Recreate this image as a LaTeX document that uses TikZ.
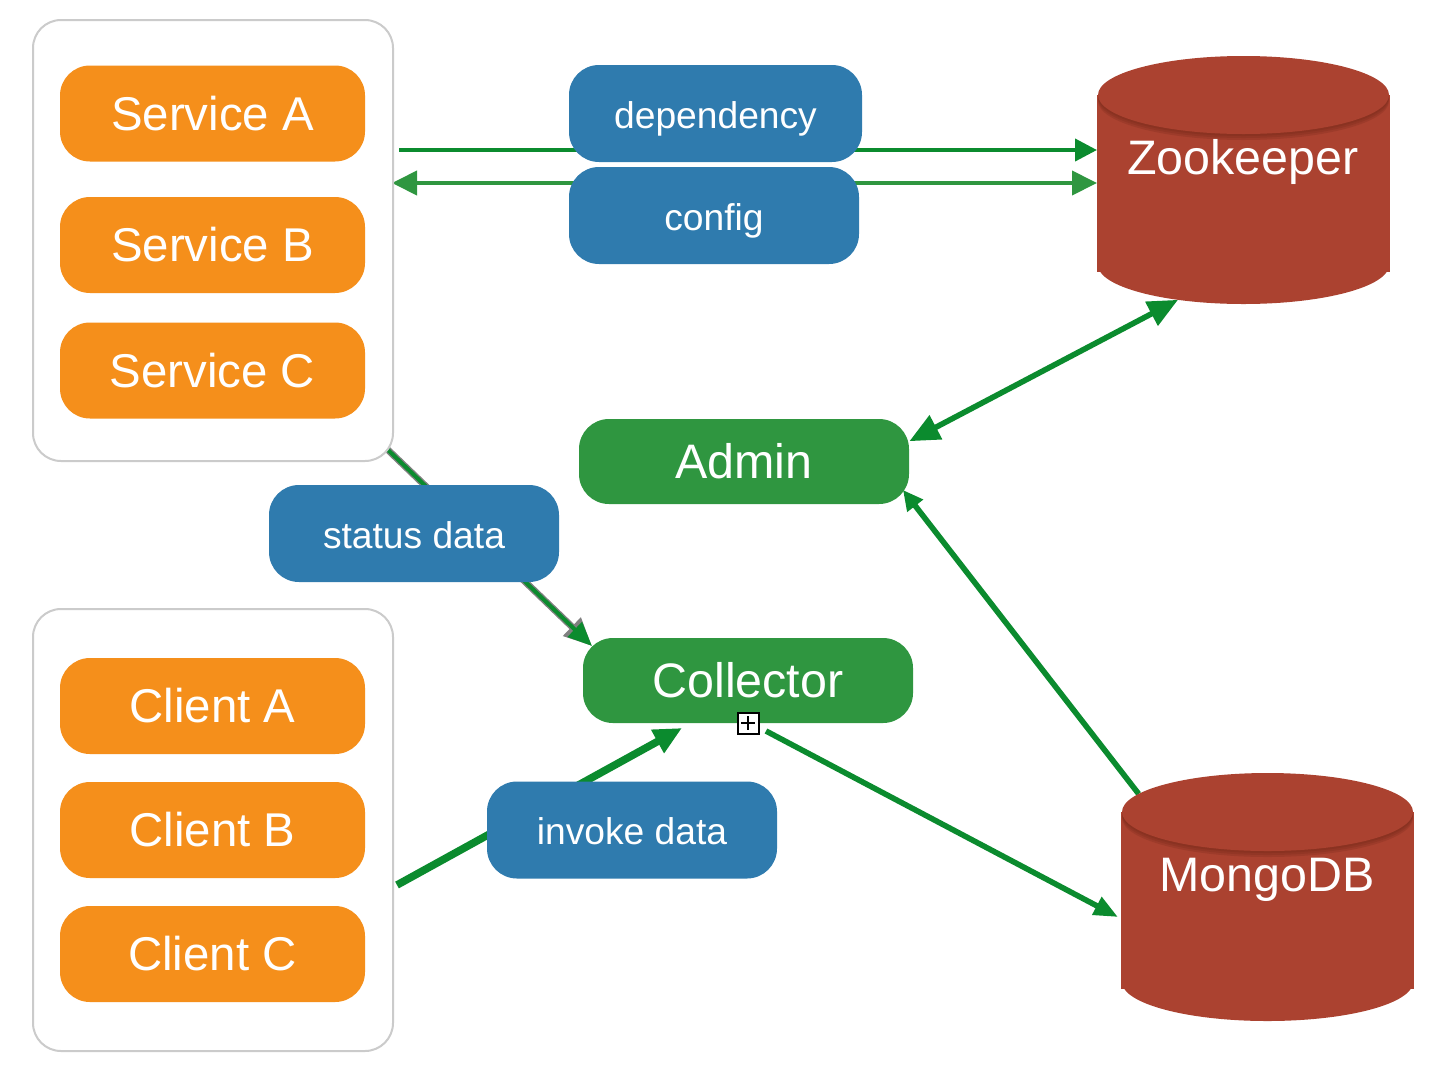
\documentclass[tikz,border=0pt]{standalone}
\usepackage{fontspec}
\setmainfont{Liberation Sans}
\usetikzlibrary{shapes.geometric,arrows.meta,backgrounds}
\definecolor{svcorange}{HTML}{F58F1B}
\definecolor{tagblue}{HTML}{2F7BAE}
\definecolor{appgreen}{HTML}{2F9640}
\definecolor{dbred}{HTML}{AB4230}
\definecolor{dbshade}{HTML}{6E2517}
\definecolor{linegreen}{HTML}{0B8B2E}
\definecolor{groupgrey}{HTML}{CBCBCB}
\tikzset{
    groupbox/.style={draw=groupgrey,line width=1pt,fill=white,rounded corners=14pt,minimum width=180pt,inner sep=0pt},
    svcbox/.style={fill=svcorange,text=white,rounded corners=15pt,minimum width=152.5pt,minimum height=48pt,inner sep=0pt,font=\fontsize{23.7}{28}\selectfont},
    tagbox/.style={fill=tagblue,text=white,rounded corners=15pt,minimum width=145pt,minimum height=48.5pt,inner sep=0pt,text height=14.5pt,text depth=0pt,font=\fontsize{18.6}{22}\selectfont},
    appbox/.style={fill=appgreen,text=white,rounded corners=15pt,minimum width=165pt,minimum height=42.5pt,inner sep=0pt,font=\fontsize{24.2}{29}\selectfont},
    dbbody/.style={fill=dbred,minimum width=146.5pt,minimum height=88.5pt,inner sep=0pt,outer sep=0pt},
    dbcap/.style={ellipse,fill=dbred,minimum width=145.5pt,minimum height=39pt,inner sep=0pt,outer sep=0pt},
    dbglow/.style={dbcap,fill=dbshade,opacity=0.22},
    dblabel/.style={text=white,inner sep=0pt,font=\fontsize{24.2}{29}\selectfont},
    plusbox/.style={draw=black,fill=white,line width=1pt,minimum size=10.5pt,inner sep=0pt,
        path picture={\draw[line width=0.7pt] (path picture bounding box.center) ++(-3.4pt,0) -- ++(6.8pt,0);
                      \draw[line width=0.7pt] (path picture bounding box.center) ++(0,-3.4pt) -- ++(0,6.8pt);}},
    thinflow/.style={draw=linegreen,line width=2pt,-{Triangle[length=11pt,width=11pt]}},
    thickflow/.style={draw=linegreen,line width=2.8pt},
}
\begin{document}
\begin{tikzpicture}[x=0.5pt,y=-0.5pt]
    \useasboundingbox (0,0) rectangle (1456,1072);

    % left groups
    \node[groupbox,minimum height=220.5pt] (services) at (213,240.5) {};
    \node[groupbox,minimum height=221pt] (clients) at (213,830) {};

    \node[svcbox] (svcA) at (212.5,113.5) {Service A};
    \node[svcbox] (svcB) at (212.5,245) {Service B};
    \node[svcbox] (svcC) at (212.5,370.5) {Service C};
    \node[svcbox] (cliA) at (212.5,706) {Client A};
    \node[svcbox] (cliB) at (212.5,830) {Client B};
    \node[svcbox] (cliC) at (212.5,954) {Client C};

    % middle
    \node[tagbox,minimum width=146.5pt] (dep) at (715.5,113.5) {dependency};
    \node[tagbox] (cfg) at (714,215.5) {config};
    \node[tagbox] (status) at (414,533.5) {status data};
    \node[tagbox] (invoke) at (632,830) {invoke data};
    \node[appbox] (admin) at (744,461.5) {Admin};
    \node[appbox] (collector) at (748,680.5) {Collector};
    \node[plusbox] (fold) at (748,723) {};

    % Zookeeper
    \node[dbcap] (zkbottom) at (1243.5,265) {};
    \node[dbbody] (zkbody) at (1243.5,183.5) {};
    \node[dbglow,yshift=-3pt] (zkshadeA) at (1243.5,95) {};
    \node[dbglow,yshift=-2pt] (zkshadeB) at (1243.5,95) {};
    \node[dbglow,yshift=-1pt] (zkshadeC) at (1243.5,95) {};
    \node[dbcap] (zktop) at (1243.5,95) {};
    \node[dblabel] (zklabel) at (1243,162) {Zookeeper};

    % MongoDB
    \node[dbcap] (mgbottom) at (1267.5,982) {};
    \node[dbbody] (mgbody) at (1267.5,900.5) {};
    \node[dbglow,yshift=-3pt] (mgshadeA) at (1267.5,812) {};
    \node[dbglow,yshift=-2pt] (mgshadeB) at (1267.5,812) {};
    \node[dbglow,yshift=-1pt] (mgshadeC) at (1267.5,812) {};
    \node[dbcap] (mgtop) at (1267.5,812) {};
    \node[dblabel] (mglabel) at (1267,880) {MongoDB};

    % free ends
    \coordinate (depfrom) at (399,150);
    \coordinate (cfgleft) at (392,183);
    \coordinate (statusfrom) at (387,449);
    \coordinate (statusto) at (592,646);
    \coordinate (invokefrom) at (397,885);
    \coordinate (invoketo) at (682,728);
    \coordinate (storefrom) at (766,731);
    \coordinate (storeto) at (1118,917);
    \coordinate (adminin) at (903,490);

    \begin{scope}[on background layer]
    \draw[thinflow] (depfrom) -- (zkbody.west |- depfrom);
    \draw[draw=appgreen,line width=2pt,{Triangle[length=12.5pt,width=12pt]}-{Triangle[length=12.5pt,width=12pt]}] (cfgleft) -- (zkbody.west |- cfgleft);
    \draw[draw=gray,line width=3.4pt,-{Triangle[length=14pt,width=12pt]}] (statusfrom) -- (statusto);
    \draw[thinflow,-{Triangle[length=12pt,width=10pt]}] (statusfrom) -- (statusto);
    \draw[draw=linegreen,line width=3.8pt,-{Triangle[length=14pt,width=12.5pt]}] (invokefrom) -- (invoketo);
    \draw[thickflow,-{Triangle[length=12pt,width=9.5pt]}] (storefrom) -- (storeto);
    \draw[thickflow,-{Triangle[length=10pt,width=9.5pt]}] (mgtop.172.7) -- (adminin);
    \draw[thickflow,{Triangle[length=15pt,width=13pt]}-{Triangle[length=15pt,width=13pt]}] (admin.7.5) -- (zkbottom.208);
    \end{scope}
\end{tikzpicture}
\end{document}
